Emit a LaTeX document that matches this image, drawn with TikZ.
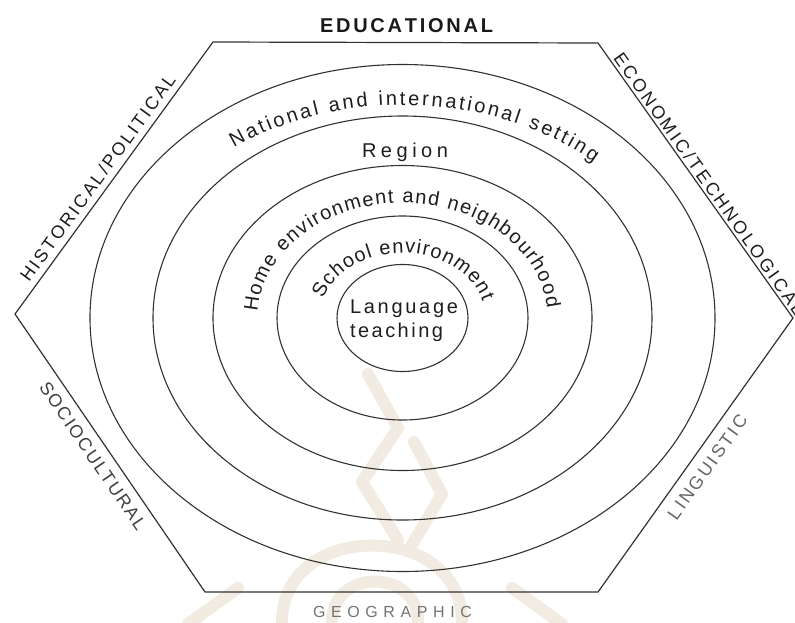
\documentclass[tikz,border=0pt]{standalone}
\usepackage{fontspec}
\setmainfont{Liberation Sans}
\usetikzlibrary{decorations.text,calc}

\definecolor{wmbeige}{RGB}{241,235,225}
\definecolor{inkline}{RGB}{50,50,50}
\definecolor{inktext}{RGB}{30,30,30}

\newcommand\ringfont{\fontsize{20}{22}\selectfont}
\newcommand\titlefont{\fontsize{20}{22}\selectfont\bfseries}
\newcommand\sidefont{\fontsize{18}{20}\selectfont}
\newcommand\basefont{\fontsize{16}{18}\selectfont}

\begin{document}
\begin{tikzpicture}[x=1pt,y=1pt,
  frame/.style={draw=inkline,line width=1.2pt,line join=miter},
  ring/.style={draw=inkline,line width=1.1pt},
  wm/.style={draw=wmbeige,line width=12pt,line cap=round,line join=round},
  lettering/.style={decorate,decoration={text along path,text align={fit to path},text color=#1}},
]
\useasboundingbox (0,0) rectangle (795,-622);
\fill[white] (0,0) rectangle (795,-622);

% faint emblem in the background
\draw[wm] (368,-374) -- (398,-428) -- (362,-482) -- (398,-540);
\draw[wm] (414,-442) -- (442,-494) -- (410,-548);
\draw[wm] (282,-622) .. controls (282,-520) and (462,-520) .. (462,-622);
\draw[wm] (332,-622) .. controls (332,-568) and (418,-568) .. (418,-622);
\draw[wm] (188,-624) -- (238,-588);
\draw[wm] (512,-588) -- (562,-624);

% hexagonal frame
\coordinate (VTL) at (213,-42);
\coordinate (VTR) at (598,-43);
\coordinate (VR)  at (793,-318);
\coordinate (VBR) at (598,-592);
\coordinate (VBL) at (205,-592);
\coordinate (VL)  at (15,-314);
\draw[frame] (VTL) -- (VTR) -- (VR) -- (VBR) -- (VBL) -- (VL) -- cycle;

% concentric rings
\coordinate (C) at (402.5,-318);
\draw[ring] (C) ellipse [x radius=312.5, y radius=253.5];
\draw[ring] (C) ellipse [x radius=249.5, y radius=202];
\draw[ring] (C) ellipse [x radius=189.5, y radius=152.5];
\draw[ring] (C) ellipse [x radius=125.5, y radius=102];
\draw[ring] (C) ellipse [x radius=65.5, y radius=53.5];

% curved ring labels
\path[lettering=inktext,decoration={text={|\ringfont|National and international setting}}]
  (C) ++(127:280 and 213) arc [start angle=127, end angle=47, x radius=280, y radius=213];
\path[lettering=inktext,decoration={text={|\ringfont|Home environment and neighbourhood}}]
  (C) ++(177:145 and 115) arc [start angle=177, end angle=5, x radius=145, y radius=115];
\path[lettering=inktext,decoration={text={|\ringfont|School environment}}]
  (C) ++(163:83 and 65) arc [start angle=163, end angle=15, x radius=83, y radius=65];

% straight ring labels
\coordinate (RgA) at (362,-157); \coordinate (RgB) at (448,-157);
\path[lettering=inktext,decoration={text={|\ringfont|Region}}] (RgA) -- (RgB);
\coordinate (LgA) at (350,-313); \coordinate (LgB) at (458,-313);
\path[lettering=inktext,decoration={text={|\ringfont|Language}}] (LgA) -- (LgB);
\coordinate (TcA) at (350,-337); \coordinate (TcB) at (443,-337);
\path[lettering=inktext,decoration={text={|\ringfont|teaching}}] (TcA) -- (TcB);

% labels of the six sides
\coordinate (EdA) at (320,-32); \coordinate (EdB) at (493,-32);
\path[lettering=black!90,decoration={text={|\titlefont|EDUCATIONAL}}] (EdA) -- (EdB);
\coordinate (GeA) at (313,-617); \coordinate (GeB) at (472,-617);
\path[lettering=black!55,decoration={text={|\basefont|GEOGRAPHIC}}] (GeA) -- (GeB);

\path[lettering=inktext,decoration={text={|\sidefont|HISTORICAL/POLITICAL}}]
  ($(VL)!0.10!(VTL)+(-5.7,4.1)$) -- ($(VL)!0.845!(VTL)+(-5.7,4.1)$);
\path[lettering=inktext,decoration={text={|\sidefont|ECONOMIC/TECHNOLOGICAL}}]
  ($(VTR)!0.064!(VR)+(2.4,1.7)$) -- ($(VTR)!1.0!(VR)+(2.4,1.7)$);
\path[lettering=black!75,decoration={text={|\sidefont|SOCIOCULTURAL}}]
  ($(VL)!0.22!(VBL)+(-18.2,-12.4)$) -- ($(VL)!0.738!(VBL)+(-18.2,-12.4)$);
\path[lettering=black!60,decoration={text={|\sidefont|LINGUISTIC}}]
  ($(VBR)!0.307!(VR)+(18.7,-13.3)$) -- ($(VBR)!0.675!(VR)+(18.7,-13.3)$);
\end{tikzpicture}
\end{document}
